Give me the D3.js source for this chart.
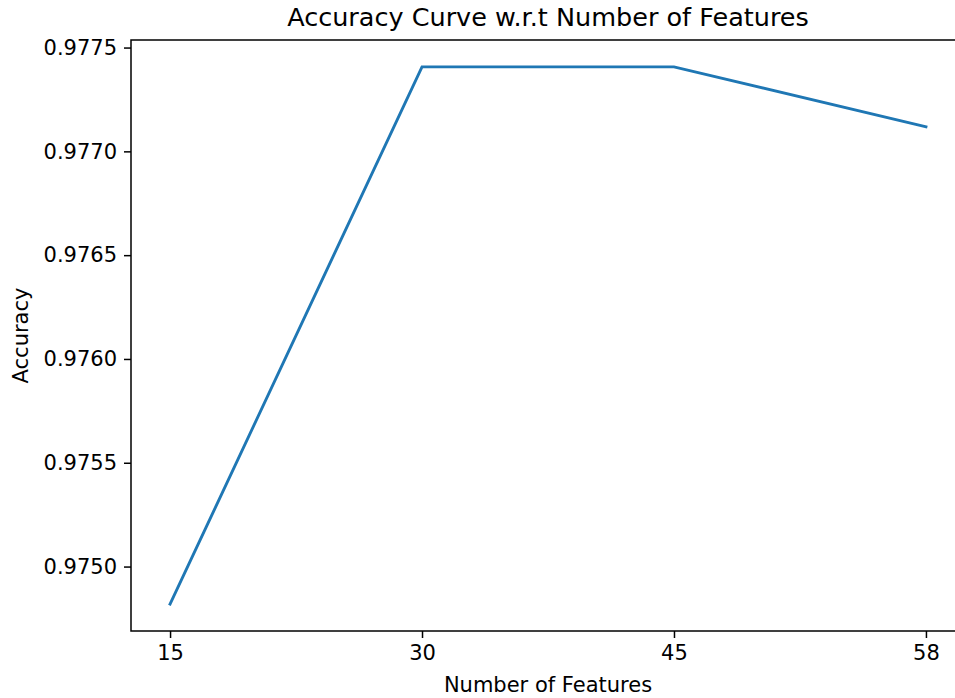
<!DOCTYPE html>
<html>
<head>
<meta charset="utf-8">
<script src="https://cdn.jsdelivr.net/npm/d3@7"></script>
<style>
  html, body { margin: 0; background: #fff; overflow: hidden; }
  svg { display: block; }
  text { font-family: "DejaVu Sans", sans-serif; fill: #000; }
</style>
</head>
<body>
<svg id="chart"></svg>
<script>
// Data
const features = ['15', '30', '45', '58'];
const accuracy = [0.974819, 0.977407, 0.977407, 0.977118];
const yTicks = [0.9750, 0.9755, 0.9760, 0.9765, 0.9770, 0.9775];

// Layout: the figure runs past the right edge of the window, as in the reference
const width = 1000;
const height = 698;
const plot = { left: 131, right: 965, top: 40, bottom: 631 };

const svg = d3.select('#chart')
    .attr('width', width)
    .attr('height', height);

// Scales
const x = d3.scalePoint()
    .domain(features)
    .range([plot.left, plot.right])
    .padding(0.155);

const [lo, hi] = d3.extent(accuracy);
const pad = (hi - lo) * 0.05;
const y = d3.scaleLinear()
    .domain([lo - pad, hi + pad])
    .range([plot.bottom, plot.top]);

// Axes
const xAxis = svg.append('g')
    .attr('transform', `translate(0,${plot.bottom})`)
    .call(d3.axisBottom(x).tickSizeOuter(0).tickSize(7).tickPadding(7));

const yAxis = svg.append('g')
    .attr('transform', `translate(${plot.left},0)`)
    .call(d3.axisLeft(y).tickValues(yTicks).tickFormat(d3.format('.4f'))
        .tickSizeOuter(0).tickSize(7).tickPadding(7));

[xAxis, yAxis].forEach(a => {
    a.select('.domain').remove();
    a.selectAll('.tick line').attr('stroke', '#000').attr('stroke-width', 1.5);
    a.selectAll('.tick text').style('font-size', '21px').attr('fill', '#000');
});

// Spines
svg.append('rect')
    .attr('x', plot.left)
    .attr('y', plot.top)
    .attr('width', plot.right - plot.left)
    .attr('height', plot.bottom - plot.top)
    .attr('fill', 'none')
    .attr('stroke', '#000')
    .attr('stroke-width', 1.5);

// Line
const line = d3.line()
    .x((d, i) => x(features[i]))
    .y(d => y(d));

svg.append('path')
    .datum(accuracy)
    .attr('d', line)
    .attr('fill', 'none')
    .attr('stroke', '#1f77b4')
    .attr('stroke-width', 2.9)
    .attr('stroke-linecap', 'square');

// Title and labels
const cx = (plot.left + plot.right) / 2;
svg.append('text')
    .attr('x', cx)
    .attr('y', 26)
    .attr('text-anchor', 'middle')
    .style('font-size', '25.5px')
    .text('Accuracy Curve w.r.t Number of Features');

svg.append('text')
    .attr('x', cx)
    .attr('y', 692)
    .attr('text-anchor', 'middle')
    .style('font-size', '21px')
    .text('Number of Features');

svg.append('text')
    .attr('transform', `translate(28,${(plot.top + plot.bottom) / 2}) rotate(-90)`)
    .attr('text-anchor', 'middle')
    .style('font-size', '21px')
    .text('Accuracy');
</script>
</body>
</html>
